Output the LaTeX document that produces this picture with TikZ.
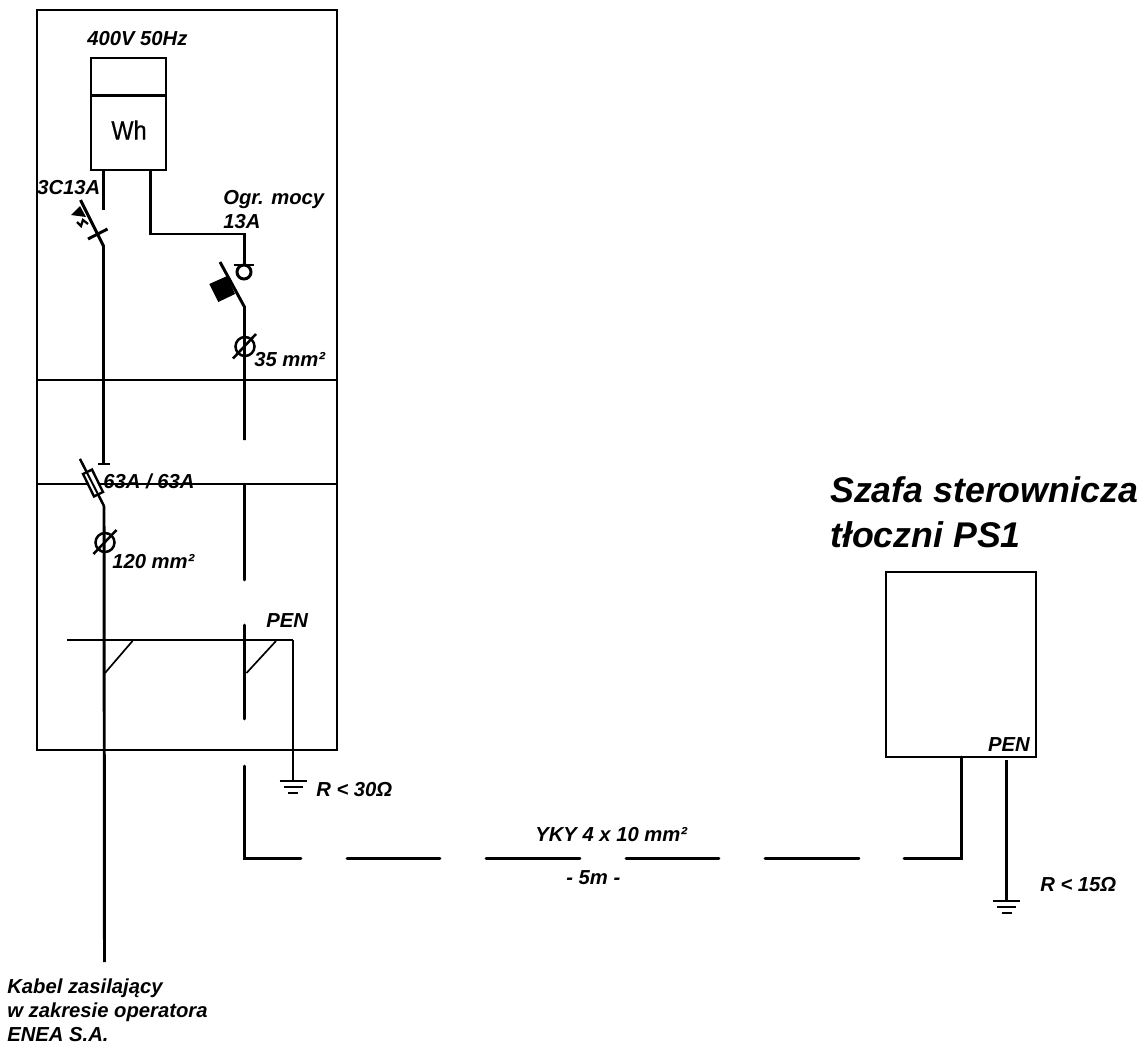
\documentclass[tikz,border=0pt]{standalone}
\usepackage{fontspec}
\setmainfont{Liberation Sans}
\newfontfamily\metrfont[FakeStretch=0.88,FakeBold=0.5]{Liberation Sans}
\usetikzlibrary{positioning}
\tikzset{
	thinline/.style={line width=0.95pt},
	wire/.style={line width=2.1pt},
	lab/.style={font=\fontsize{14.4}{17}\selectfont\bfseries\itshape, inner sep=0pt, anchor=west},
	biglab/.style={font=\fontsize{25.4}{32}\selectfont\bfseries\itshape, inner sep=0pt, anchor=west}
}
\begin{document}
\begin{tikzpicture}[x=0.025cm,y=-0.025cm]
	\useasboundingbox (0,0) rectangle (1138,1045);
	% obudowa
	\node (zlacze) [draw,thinline,minimum width=7.5cm,minimum height=18.5cm,inner sep=0pt] at (187,380) {};
	\coordinate (s1l) at (37,380);
	\coordinate (s1r) at (337,380);
	\coordinate (s2l) at (37,484);
	\coordinate (s2r) at (337,484);
	\draw[thinline] (s1l) -- (s1r);
	\draw[thinline] (s2l) -- (s2r);
	% licznik
	\node (licznik) [draw,wire,minimum width=1.875cm,minimum height=2.8cm,inner sep=0pt] at (128.5,114) {};
	\coordinate (dl) at (91,95.5);
	\coordinate (dr) at (166,95.5);
	\draw[wire] (dl) -- (dr);
	\node (wh) [font=\fontsize{19}{23}\selectfont\metrfont,inner sep=0pt] at (129,130) {Wh};
	\node (napiecie) [lab] at (87,39) {400V 50Hz};

	% wylacznik 3C13A
	\coordinate (a0) at (103.5,170);
	\coordinate (a1) at (103.5,210);
	\coordinate (a2) at (80.5,200);
	\coordinate (a3) at (103.5,246);
	\coordinate (a4) at (103.5,464);
	\draw[wire] (a0) -- (a1);
	\draw[wire] (a2) -- (a3) -- (a4);
	\draw[wire] (88,239) -- (107.5,229);
	\fill (71,215) -- (80,206) -- (86,217) -- cycle;
	\draw[line width=1.6pt] (77,222) -- (81,226) -- (83,220) -- (88,224);
	\draw[wire] (98,464) -- (110,464);
	\node (wyl) [lab] at (37,188) {3C13A};

	% bezpiecznik
	\coordinate (b0) at (80,459);
	\coordinate (b1) at (104,506);
	\coordinate (b2) at (104.5,962);
	\draw[wire] (b1) -- (b2);
	\draw[line width=1.7pt] (b0) -- (b1);
	\draw[line width=1.7pt,fill=white,rotate around={26:(93,483)}] (88,470.5) rectangle (98,495.5);
	\draw[line width=1.4pt] (b0) -- (b1);
	\node (bezp) [lab] at (103,481) {63A / 63A};

	\draw[line width=1.8pt] (105,542.5) circle (9.5);
	\draw[line width=1.8pt] (93.5,554) -- (116.5,530);
	\node (kabel120) [lab] at (112,562) {120 mm²};

	% ogranicznik mocy
	\coordinate (c0) at (150.5,170);
	\coordinate (c1) at (150.5,234);
	\coordinate (c2) at (244.5,234);
	\coordinate (c3) at (244.5,265);
	\coordinate (c4) at (220,262);
	\coordinate (c5) at (244.5,307);
	\coordinate (c6) at (244.5,440);
	\draw[wire] (c0) -- (c1) -- (c2) -- (c3);
	\draw[wire] (233.5,265) -- (254,265);
	\draw[wire] (244,272) circle (7);
	\draw[wire] (c4) -- (c5) -- (c6);
	\fill (209.3,284) -- (227.3,276) -- (235,294) -- (218.3,302) -- cycle;
	\draw[line width=1.8pt] (245,346.5) circle (9.5);
	\draw[line width=1.8pt] (233,358.5) -- (256,334);
	\node (ogr) [lab,align=left] at (223,209.5) {Ogr. mocy\\13A};
	\node (kabel35) [lab] at (254,360) {35 mm²};

	% szyna PEN
	\coordinate (p0) at (67,640);
	\coordinate (p1) at (293,640);
	\coordinate (p2) at (293,781);
	\draw[line width=1.5pt] (p0) -- (p1);
	\draw[line width=1.5pt] (p1) -- (p2);
	\draw[line width=1.2pt] (105,673) -- (132.5,641);
	\draw[line width=1.2pt] (246.5,673) -- (276,641);
	\node (pen1) [lab] at (266,621) {PEN};

	% kabel YKY (przerywany)
	\foreach \ya/\yb in {485/580, 625/719}
		\draw[wire,line cap=round] (244.5,\ya) -- (244.5,\yb);
	\coordinate (k0) at (244.5,766);
	\coordinate (k1) at (244.5,858.5);
	\coordinate (k2) at (301,858.5);
	\draw[wire,line cap=round] (k0) -- (k1) -- (k2);
	\foreach \xa/\xb in {347/440, 486/580, 626/719, 765/859}
		\draw[wire,line cap=round] (\xa,858.5) -- (\xb,858.5);
	\coordinate (k3) at (904,858.5);
	\coordinate (k4) at (961.5,858.5);
	\coordinate (k5) at (961.5,757);
	\draw[wire,line cap=round] (k3) -- (k4) -- (k5);
	\node (yky) [lab] at (535,835) {YKY 4 x 10 mm²};
	\node (dlug) [lab] at (566,878) {- 5m -};

	% szafa
	\node (szafa) [draw,thinline,minimum width=3.75cm,minimum height=4.625cm,inner sep=0pt] at (961,664.5) {};
	\node (pen2) [lab,anchor=east] at (1030,745) {PEN};
	\coordinate (q0) at (1006.5,760);
	\coordinate (q1) at (1006.5,901);
	\draw[line width=1.6pt] (q0) -- (q1);
	\node (tytul) [biglab,align=left] at (830,512) {Szafa sterownicza\\tłoczni PS1};

	% uziemienia
	\foreach \gx/\gy in {293/781, 1006.5/901} {
		\draw[wire] (\gx-13.5,\gy) -- (\gx+13.5,\gy);
		\draw[line width=1.6pt] (\gx-9.5,\gy+6) -- (\gx+9.5,\gy+6);
		\draw[wire] (\gx-5,\gy+12) -- (\gx+5,\gy+12);
	}
	\node (r30) [lab] at (316,790) {R < 30Ω};
	\node (r15) [lab] at (1040,885) {R < 15Ω};

	\node (zasil) [lab,align=left] at (7,1010) {Kabel zasilający\\w zakresie operatora\\ENEA S.A.};
\end{tikzpicture}
\end{document}
